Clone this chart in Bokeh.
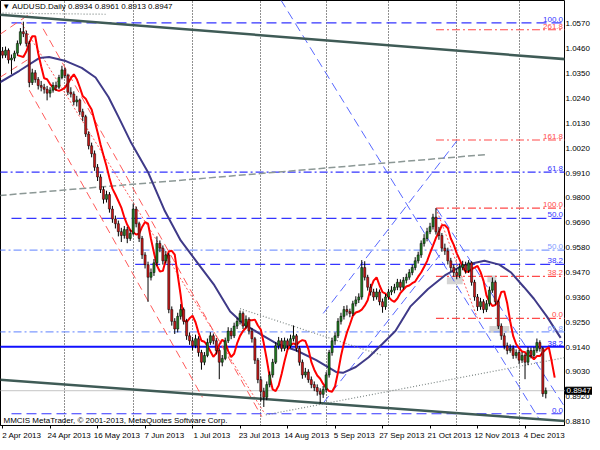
from bokeh.plotting import figure
from bokeh.models import Range1d, FixedTicker, PrintfTickFormatter, Label, ColumnDataSource
from bokeh.core.properties import value
from bokeh.embed import file_html
from bokeh.resources import INLINE
import pandas as pd

# ---------------- data (AUDUSD daily, bar index 0 = 2 Apr 2013) ----------------
OPEN = [1.0450,1.0432,1.0454,1.0411,1.0419,1.0441,1.0484,1.0536,1.0527,1.0484,
        1.0311,1.0354,1.0324,1.0298,1.0290,1.0281,1.0264,1.0277,1.0298,1.0290,
        1.0333,1.0367,1.0342,1.0268,1.0260,1.0225,1.0234,1.0182,1.0160,1.0083,
        1.0031,0.9996,0.9936,0.9893,0.9837,0.9794,0.9815,0.9751,0.9707,0.9686,
        0.9651,0.9634,0.9660,0.9621,0.9643,0.9751,0.9686,0.9621,0.9548,0.9505,
        0.9449,0.9470,0.9513,0.9599,0.9578,0.9522,0.9548,0.9306,0.9254,0.9220,
        0.9276,0.9306,0.9254,0.9190,0.9168,0.9146,0.9177,0.9116,0.9073,0.9103,
        0.9160,0.9190,0.9168,0.9125,0.9073,0.9090,0.9168,0.9211,0.9190,0.9233,
        0.9254,0.9289,0.9233,0.9263,0.9211,0.9177,0.9082,0.8996,0.8944,0.8918,
        0.8974,0.9017,0.9073,0.9146,0.9168,0.9134,0.9168,0.9146,0.9177,0.9190,
        0.9134,0.9073,0.9017,0.9030,0.8996,0.8974,0.8961,0.8944,0.8931,0.8952,
        0.9017,0.9116,0.9168,0.9190,0.9254,0.9276,0.9306,0.9297,0.9289,0.9332,
        0.9349,0.9362,0.9492,0.9449,0.9405,0.9384,0.9362,0.9384,0.9341,0.9319,
        0.9362,0.9384,0.9392,0.9405,0.9427,0.9405,0.9436,0.9449,0.9470,0.9492,
        0.9522,0.9548,0.9599,0.9621,0.9651,0.9673,0.9715,0.9650,0.9634,0.9578,
        0.9565,0.9522,0.9492,0.9470,0.9457,0.9492,0.9505,0.9479,0.9513,0.9427,
        0.9362,0.9319,0.9341,0.9306,0.9332,0.9392,0.9427,0.9341,0.9233,0.9190,
        0.9146,0.9125,0.9134,0.9103,0.9116,0.9082,0.9103,0.9073,0.9125,0.9103,
        0.9125,0.9160,0.9134,0.8934]
HIGH = [1.0468,1.0470,1.0462,1.0435,1.0452,1.0497,1.0552,1.0580,1.0540,1.0495,
        1.0372,1.0366,1.0335,1.0318,1.0305,1.0296,1.0290,1.0312,1.0315,1.0345,
        1.0385,1.0376,1.0350,1.0290,1.0272,1.0252,1.0240,1.0195,1.0168,1.0095,
        1.0045,1.0010,0.9950,0.9905,0.9850,0.9832,0.9826,0.9765,0.9722,0.9700,
        0.9668,0.9676,0.9672,0.9660,0.9775,0.9762,0.9695,0.9632,0.9560,0.9518,
        0.9488,0.9530,0.9630,0.9612,0.9590,0.9565,0.9556,0.9320,0.9268,0.9292,
        0.9330,0.9315,0.9265,0.9205,0.9185,0.9195,0.9188,0.9128,0.9118,0.9178,
        0.9206,0.9200,0.9180,0.9135,0.9105,0.9182,0.9228,0.9225,0.9248,0.9270,
        0.9302,0.9298,0.9280,0.9272,0.9225,0.9185,0.9092,0.9010,0.8960,0.8988,
        0.9032,0.9088,0.9162,0.9185,0.9180,0.9182,0.9178,0.9195,0.9236,0.9198,
        0.9145,0.9085,0.9048,0.9042,0.9010,0.8988,0.8975,0.8958,0.8968,0.9030,
        0.9128,0.9182,0.9205,0.9268,0.9292,0.9322,0.9325,0.9310,0.9345,0.9365,
        0.9378,0.9525,0.9520,0.9460,0.9420,0.9398,0.9400,0.9395,0.9355,0.9375,
        0.9398,0.9410,0.9420,0.9442,0.9440,0.9450,0.9465,0.9485,0.9505,0.9538,
        0.9562,0.9612,0.9640,0.9668,0.9690,0.9730,0.9755,0.9672,0.9645,0.9598,
        0.9580,0.9535,0.9505,0.9488,0.9510,0.9522,0.9518,0.9525,0.9520,0.9438,
        0.9375,0.9358,0.9352,0.9348,0.9408,0.9448,0.9435,0.9350,0.9245,0.9202,
        0.9160,0.9152,0.9148,0.9130,0.9128,0.9118,0.9112,0.9140,0.9138,0.9140,
        0.9178,0.9170,0.9140,0.8961]
LOW = [1.0418,1.0420,1.0395,1.0348,1.0405,1.0430,1.0475,1.0512,1.0470,1.0290,
       1.0300,1.0310,1.0280,1.0272,1.0262,1.0232,1.0245,1.0266,1.0275,1.0282,
       1.0325,1.0330,1.0255,1.0245,1.0210,1.0205,1.0168,1.0140,1.0070,1.0015,
       0.9980,0.9920,0.9875,0.9822,0.9775,0.9780,0.9735,0.9690,0.9665,0.9630,
       0.9605,0.9620,0.9600,0.9610,0.9635,0.9670,0.9605,0.9530,0.9488,0.9340,
       0.9435,0.9455,0.9500,0.9560,0.9505,0.9510,0.9290,0.9235,0.9198,0.9205,
       0.9262,0.9240,0.9172,0.9150,0.9125,0.9135,0.9098,0.9040,0.9060,0.9095,
       0.9150,0.9152,0.9108,0.8998,0.9055,0.9082,0.9158,0.9175,0.9180,0.9220,
       0.9240,0.9220,0.9222,0.9196,0.9160,0.9065,0.8980,0.8900,0.8875,0.8905,
       0.8962,0.9005,0.9065,0.9130,0.9120,0.9122,0.9130,0.9135,0.9165,0.9120,
       0.9058,0.9000,0.9005,0.8982,0.8958,0.8945,0.8925,0.8890,0.8915,0.8940,
       0.9005,0.9102,0.9150,0.9180,0.9240,0.9262,0.9280,0.9272,0.9278,0.9320,
       0.9335,0.9350,0.9435,0.9390,0.9368,0.9345,0.9350,0.9325,0.9292,0.9305,
       0.9350,0.9370,0.9378,0.9392,0.9390,0.9395,0.9422,0.9438,0.9458,0.9480,
       0.9510,0.9535,0.9585,0.9608,0.9640,0.9660,0.9638,0.9615,0.9562,0.9548,
       0.9505,0.9475,0.9452,0.9440,0.9445,0.9480,0.9465,0.9468,0.9412,0.9345,
       0.9300,0.9305,0.9290,0.9295,0.9320,0.9380,0.9328,0.9220,0.9172,0.9130,
       0.9108,0.9115,0.9088,0.9090,0.9065,0.9070,0.8998,0.9060,0.9090,0.9092,
       0.9115,0.9120,0.8920,0.8913]
CLOSE = [1.0432,1.0454,1.0411,1.0419,1.0441,1.0484,1.0536,1.0527,1.0484,1.0311,
         1.0354,1.0324,1.0298,1.0290,1.0281,1.0264,1.0277,1.0298,1.0290,1.0333,
         1.0367,1.0342,1.0268,1.0260,1.0225,1.0234,1.0182,1.0160,1.0083,1.0031,
         0.9996,0.9936,0.9893,0.9837,0.9794,0.9815,0.9751,0.9707,0.9686,0.9651,
         0.9634,0.9660,0.9621,0.9643,0.9751,0.9686,0.9621,0.9548,0.9505,0.9449,
         0.9470,0.9513,0.9599,0.9578,0.9522,0.9548,0.9306,0.9254,0.9220,0.9276,
         0.9306,0.9254,0.9190,0.9168,0.9146,0.9177,0.9116,0.9073,0.9103,0.9160,
         0.9190,0.9168,0.9125,0.9073,0.9090,0.9168,0.9211,0.9190,0.9233,0.9254,
         0.9289,0.9233,0.9263,0.9211,0.9177,0.9082,0.8996,0.8944,0.8918,0.8974,
         0.9017,0.9073,0.9146,0.9168,0.9134,0.9168,0.9146,0.9177,0.9190,0.9134,
         0.9073,0.9017,0.9030,0.8996,0.8974,0.8961,0.8944,0.8931,0.8952,0.9017,
         0.9116,0.9168,0.9190,0.9254,0.9276,0.9306,0.9297,0.9289,0.9332,0.9349,
         0.9362,0.9492,0.9449,0.9405,0.9384,0.9362,0.9384,0.9341,0.9319,0.9362,
         0.9384,0.9392,0.9405,0.9427,0.9405,0.9436,0.9449,0.9470,0.9492,0.9522,
         0.9548,0.9599,0.9621,0.9651,0.9673,0.9715,0.9650,0.9634,0.9578,0.9565,
         0.9522,0.9492,0.9470,0.9457,0.9492,0.9505,0.9479,0.9513,0.9427,0.9362,
         0.9319,0.9341,0.9306,0.9332,0.9392,0.9427,0.9341,0.9233,0.9190,0.9146,
         0.9125,0.9134,0.9103,0.9116,0.9082,0.9103,0.9073,0.9125,0.9103,0.9125,
         0.9160,0.9134,0.8934,0.8947]

# x-axis date labels (bar index of each label) and month-start grid bars
DATE_LABEL_IDX = [0, 16, 32, 48, 64, 80, 96, 112, 128, 144, 160, 176]
DATE_LABELS = ["2 Apr 2013", "24 Apr 2013", "16 May 2013", "7 Jun 2013", "1 Jul 2013",
               "23 Jul 2013", "14 Aug 2013", "5 Sep 2013", "27 Sep 2013", "21 Oct 2013",
               "12 Nov 2013", "4 Dec 2013"]
MONTH_START_IDX = [21, 44, 64, 87, 109, 130, 153, 174]
Y_TICKS = [0.8810, 0.8920, 0.9030, 0.9140, 0.9250, 0.9360, 0.9470, 0.9580, 0.9690,
           0.9800, 0.9910, 1.0020, 1.0130, 1.0240, 1.0350, 1.0460, 1.0570]

# slow moving average (purple): bar index, price
PURPLE_X = [-1.0, 5.67, 12.33, 15.67, 21.33, 26.67, 31.33, 35.67, 39.0, 43.33, 49.0, 54.67,
            60.0, 65.67, 71.33, 76.67, 81.33, 89.0, 92.33, 99.0, 105.67, 112.33, 114.67,
            119.0, 123.33, 128.0, 132.33, 137.33, 143.33, 149.0, 154.67, 162.33, 167.33,
            171.33, 175.67, 179.0, 183.33, 188.0]
PURPLE_Y = [1.0311, 1.0363, 1.0419, 1.0424, 1.0406, 1.0376, 1.0333, 1.0247, 1.0160, 1.0044,
            0.9914, 0.9742, 0.9612, 0.9513, 0.9414, 0.9298, 0.9241, 0.9181, 0.9155, 0.9125,
            0.9082, 0.9030, 0.9026, 0.9052, 0.9095, 0.9155, 0.9211, 0.9319, 0.9397, 0.9457,
            0.9500, 0.9522, 0.9505, 0.9470, 0.9405, 0.9354, 0.9276, 0.9181]

# Fibonacci retracements
BLUE_FIB_HIGH, BLUE_FIB_LOW = 1.0575, 0.8845
BLUE_FIB_RATIOS = [1.0, 0.618, 0.5, 0.382, 0.0]
BLUE_FIB_TEXT = ["100.0", "61.8", "50.0", "38.2", "0.0"]
BLUE_FIB_START = [3, -1, 3, 44.67, 3]
RED_FIB_HIGH, RED_FIB_LOW = 0.9755, 0.9267
RED_FIB_RATIOS = [2.618, 1.618, 1.0, 0.382, 0.0]
RED_FIB_TEXT = ["261.8", "161.8", "100.0", "38.2", "0.0"]
RED_FIB_START = 146
# other horizontal levels
LB_LEVELS = [0.9569, 0.9207]
LB_TEXT = ["50.0", "61.8"]
SOLID_LEVEL = 0.9142
SOLID_TEXT = "38.2"

# trend lines: (x0, y0, x1, y1) in (bar index, price)
DARK_X0 = [-1, -1];       DARK_Y0 = [1.0611, 0.8996]
DARK_X1 = [190, 190];     DARK_Y1 = [1.0414, 0.8812]
GRAYDASH_X0 = [-1];       GRAYDASH_Y0 = [0.9811]
GRAYDASH_X1 = [162.67];   GRAYDASH_Y1 = [0.9992]
GRAYDOT_X0 = [88.67, 80, 0];       GRAYDOT_Y0 = [0.8840, 0.9310, 1.0618]
GRAYDOT_X1 = [190, 128, 35.3];     GRAYDOT_Y1 = [0.9095, 0.9103, 1.0613]
BLUETL_X0 = [93.67, 108, 108, 146.33]
BLUETL_Y0 = [1.0678, 0.9289, 0.8892, 0.9751]
BLUETL_X1 = [180.67, 153, 147.33, 189]
BLUETL_Y1 = [0.8823, 1.0052, 0.9548, 0.8883]
REDTL_X0 = [9, 13.67, -1, -1];     REDTL_Y0 = [1.0277, 1.0549, 1.0523, 1.0333]
REDTL_X1 = [67.33, 87.33, 10, 8.33]; REDTL_Y1 = [0.8918, 0.8832, 1.0622, 1.0411]
REDDOT_X0 = [6.33, 146];  REDDOT_Y0 = [1.0574, 0.9755]
REDDOT_X1 = [88.33, 160]; REDDOT_Y1 = [0.8845, 0.9267]
# small grey boxes
BOX_LEFT = [149.67, 163.33, 164.0]
BOX_RIGHT = [155.0, 166.33, 170.67]
BOX_TOP = [0.9449, 0.9457, 0.9233]
BOX_BOTTOM = [0.9418, 0.9427, 0.9203]

FONT = "Liberation Sans"
XR = (-0.7, 189.3)

p = figure(width=592, height=442, output_backend="svg", toolbar_location=None,
           x_range=Range1d(*XR), y_range=Range1d(0.8793, 1.0674),
           y_axis_location="right", min_border_left=0, min_border_top=0,
           min_border_right=0, min_border_bottom=0)
p.outline_line_color = "black"
p.outline_line_width = 1
p.background_fill_color = "white"
p.border_fill_color = "white"
p.ygrid.visible = False
p.xgrid.ticker = FixedTicker(ticks=MONTH_START_IDX)
p.xgrid.grid_line_color = "#202020"
p.xgrid.grid_line_dash = "1 2"
p.xgrid.grid_line_width = 1

# price scale: it sits outside the strip reserved by the price tag, and its
# labels are pulled back (negative standoff) into that strip next to the frame
yax = p.yaxis[0]
yax.ticker = FixedTicker(ticks=Y_TICKS)
yax.formatter = PrintfTickFormatter(format="%.4f")
yax.major_label_text_font = FONT
yax.major_label_text_font_size = "8px"
yax.major_label_text_color = "black"
yax.major_tick_out = 0
yax.major_tick_in = 0
yax.minor_tick_out = 0
yax.minor_tick_in = 0
yax.major_label_standoff = -25
yax.axis_line_color = None

LABEL_SHIFT = 6.5
xax = p.xaxis[0]
xax.ticker = FixedTicker(ticks=[i + LABEL_SHIFT for i in DATE_LABEL_IDX], minor_ticks=DATE_LABEL_IDX)
xax.major_label_overrides = {i + LABEL_SHIFT: t for i, t in zip(DATE_LABEL_IDX, DATE_LABELS)}
xax.major_label_text_font = FONT
xax.major_label_text_font_size = "8px"
xax.major_label_text_color = "black"
xax.major_tick_out = 0
xax.major_tick_in = 0
xax.minor_tick_out = 3
xax.minor_tick_in = 0
xax.major_label_standoff = 2
xax.axis_line_color = "black"

def seg(x0, y0, x1, y1, color, width, dash):
    p.segment(x0=x0, y0=y0, x1=x1, y1=y1, line_color=color, line_width=width, line_dash=dash)

def hline(y, x0, color, width, dash):
    p.segment(x0=x0, y0=y, x1=[XR[1] + 1] * len(y), y1=y, line_color=color, line_width=width, line_dash=dash)

# grey boxes
p.quad(left=BOX_LEFT, right=BOX_RIGHT, top=BOX_TOP, bottom=BOX_BOTTOM, fill_color="#d4d4d4", line_color=None)

# horizontal levels
blue_levels = [BLUE_FIB_LOW + r * (BLUE_FIB_HIGH - BLUE_FIB_LOW) for r in BLUE_FIB_RATIOS]
red_levels = [RED_FIB_LOW + r * (RED_FIB_HIGH - RED_FIB_LOW) for r in RED_FIB_RATIOS]
dash_idx = [i for i, r in enumerate(BLUE_FIB_RATIOS) if r != 0.618]
dd_idx = [i for i, r in enumerate(BLUE_FIB_RATIOS) if r == 0.618]
hline([blue_levels[i] for i in dash_idx], [BLUE_FIB_START[i] for i in dash_idx], "#3535ff", 1.2, "10 5")
hline([blue_levels[i] for i in dd_idx], [BLUE_FIB_START[i] for i in dd_idx], "#3535ff", 1.2, "8 3 2 3")
hline(red_levels, [RED_FIB_START] * len(red_levels), "#ff4a4a", 1.2, "8 3 2 3")
hline(LB_LEVELS, [XR[0] - 1] * len(LB_LEVELS), "#7f9bff", 1.2, "8 3 2 3")
hline([SOLID_LEVEL], [XR[0] - 1], "#1010ff", 2, "solid")
hline([CLOSE[-1]], [XR[0] - 1], "#c4c4c4", 1, "solid")

# trend lines
seg(GRAYDASH_X0, GRAYDASH_Y0, GRAYDASH_X1, GRAYDASH_Y1, "#8c9896", 1.5, "7 3")
seg(GRAYDOT_X0, GRAYDOT_Y0, GRAYDOT_X1, GRAYDOT_Y1, "#7d8785", 1.2, "1 2")
seg(BLUETL_X0, BLUETL_Y0, BLUETL_X1, BLUETL_Y1, "#5868ff", 1, "9 5")
seg(REDTL_X0, REDTL_Y0, REDTL_X1, REDTL_Y1, "#ff5a5a", 1, "8 5")
seg(REDDOT_X0, REDDOT_Y0, REDDOT_X1, REDDOT_Y1, "#ff5a5a", 1, "2 2")
seg(DARK_X0, DARK_Y0, DARK_X1, DARK_Y1, "#3f5b56", 2.5, "solid")

# moving averages
p.line(PURPLE_X, PURPLE_Y, line_color="#3f3a88", line_width=2)
fast = pd.Series(CLOSE).rolling(3).mean()
red_x = [i + 3 for i in range(len(CLOSE)) if not pd.isna(fast[i])]
red_y = [v for v in fast if not pd.isna(v)]
p.line(red_x, red_y, line_color="#ff0000", line_width=2)

# candles
idx = list(range(len(CLOSE)))
src = ColumnDataSource(dict(
    x=idx, h=HIGH, l=LOW,
    top=[max(o, c) for o, c in zip(OPEN, CLOSE)],
    bottom=[min(o, c) for o, c in zip(OPEN, CLOSE)],
    color=["#207a20" if c >= o else "#c81818" for o, c in zip(OPEN, CLOSE)]))
p.segment(x0="x", y0="h", x1="x", y1="l", line_color="black", line_width=1, source=src)
p.vbar(x="x", width=0.72, top="top", bottom="bottom", fill_color="color",
       line_color="black", line_width=0.5, source=src)

# level labels
LX = XR[1] - 0.5
def labels(ys, texts, color):
    p.text(x=[LX] * len(ys), y=ys, text=texts, text_align="right", text_baseline="bottom",
           text_font=value(FONT), text_font_size="8px", text_color=color, y_offset=-1)
labels(blue_levels, BLUE_FIB_TEXT, "#3535ff")
labels(red_levels, RED_FIB_TEXT, "#ff4a4a")
labels(LB_LEVELS, LB_TEXT, "#7f9bff")
labels([SOLID_LEVEL], [SOLID_TEXT], "#1010ff")

# header and footer texts
title = "\u25BC AUDUSD.Daily  %.4f %.4f %.4f %.4f" % (OPEN[-1], HIGH[-1], LOW[-1], CLOSE[-1])
p.text(x=[XR[0] + 0.6], y=[1.0648], text=[title], text_baseline="middle",
       text_font=value(FONT), text_font_size="8px", text_color="black")
p.text(x=[XR[0] + 1.0], y=[0.8816], text=["MMCIS MetaTrader, \u00A9 2001-2013, MetaQuotes Software Corp."],
       text_baseline="middle", text_font=value(FONT), text_font_size="8px", text_color="black")

# current price tag on the price scale: a side-panel label (not clipped to the frame),
# placed next to the frame; the price axis goes outside it
tag = Label(x=XR[1], y=CLOSE[-1], x_offset=1,
            text="%.4f" % CLOSE[-1], text_baseline="middle", text_align="left",
            text_font=FONT, text_font_size="8px", text_color="white",
            background_fill_color="black", background_fill_alpha=1.0,
            border_line_color="black", padding=1)
p.right = [tag, yax]

open("out.html", "w").write(file_html(p, INLINE))
